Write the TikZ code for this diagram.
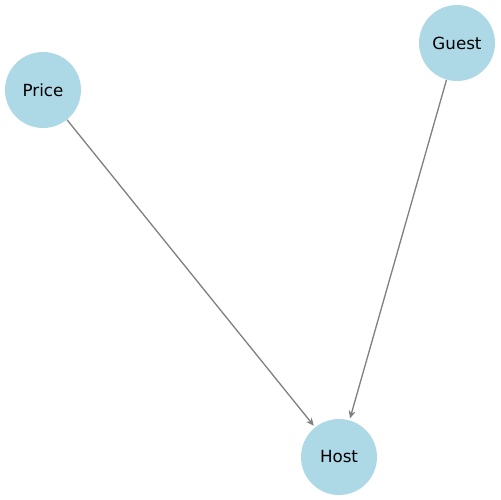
\documentclass[tikz,border=0pt]{standalone}
\usepackage{fontspec}
\setmainfont{DejaVu Sans}
\usetikzlibrary{arrows.meta}
\definecolor{nodeblue}{RGB}{173,216,230}
\begin{document}
\begin{tikzpicture}[x=0.02cm,y=-0.02cm,
  vnode/.style={circle,fill=nodeblue,draw=none,minimum size=1.52cm,inner sep=0pt,font=\fontsize{9.5}{11}\selectfont},
  edge/.style={draw=gray,line width=0.75pt,-{Stealth[length=4.5pt,width=4pt]},shorten >=1pt}]
\useasboundingbox (0,0) rectangle (500,500);
\node[vnode] (price) at (43,90) {Price};
\node[vnode] (guest) at (457,43) {Guest};
\node[vnode] (host) at (339,457) {Host};
\draw[edge] (price) -- (host);
\draw[edge] (guest) -- (host);
\end{tikzpicture}
\end{document}
